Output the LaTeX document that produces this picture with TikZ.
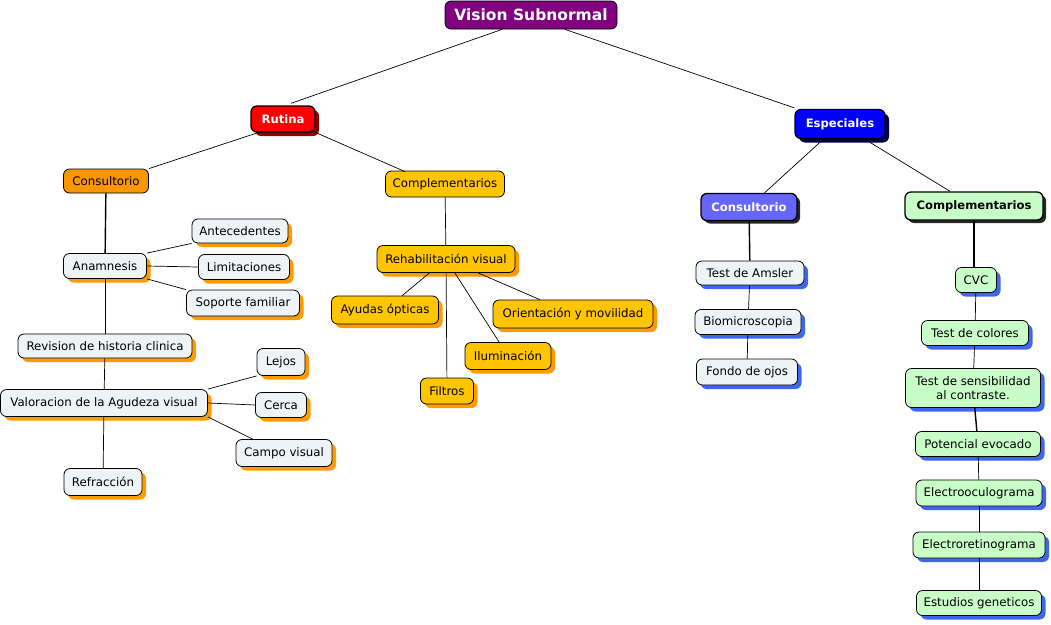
\documentclass[tikz,border=0pt]{standalone}
\usepackage{fontspec}
\setmainfont{DejaVu Sans}
\usetikzlibrary{shadows}
\definecolor{cpurple}{HTML}{800080}
\definecolor{cred}{HTML}{FF0000}
\definecolor{cdred}{HTML}{8A0000}
\definecolor{cblue}{HTML}{0000FF}
\definecolor{cdblue}{HTML}{00004A}
\definecolor{corange}{HTML}{FA9600}
\definecolor{cgold}{HTML}{FFC600}
\definecolor{cleaf}{HTML}{EEF3F6}
\definecolor{cmblue}{HTML}{6666FF}
\definecolor{cgreen}{HTML}{C8FDC8}
\definecolor{cshor}{HTML}{FF9A00}
\definecolor{cshbl}{HTML}{3F66F0}
\tikzset{
  box/.style={draw=black, line width=0.8pt, rounded corners=6pt, inner sep=0pt, align=center,
    font=\fontsize{11.8}{14}\selectfont},
  bfont/.style={font=\fontsize{11.6}{14}\selectfont\bfseries},
  topbox/.style={box, fill=cpurple, text=white, font=\fontsize{15.5}{18}\selectfont\bfseries},
  headred/.style={box, bfont, line width=1.3pt, fill=cred, text=white,
    drop shadow={shadow xshift=4pt, shadow yshift=-4pt, fill=cdred, opacity=1}},
  headblue/.style={box, bfont, line width=1.3pt, fill=cblue, text=white,
    drop shadow={shadow xshift=4pt, shadow yshift=-4pt, fill=cdblue, opacity=1}},
  headmblue/.style={box, bfont, line width=1.3pt, fill=cmblue, text=white,
    drop shadow={shadow xshift=3pt, shadow yshift=-3pt, fill=black!85, opacity=1}},
  headgreen/.style={box, bfont, line width=1.3pt, fill=cgreen, text=black,
    drop shadow={shadow xshift=3pt, shadow yshift=-3pt, fill=black!85, opacity=1}},
  orangebox/.style={box, fill=corange},
  goldbox/.style={box, fill=cgold},
  goldleaf/.style={box, fill=cgold, drop shadow={shadow xshift=4pt, shadow yshift=-4pt, fill=cshor, opacity=1}},
  leafo/.style={box, fill=cleaf, drop shadow={shadow xshift=4pt, shadow yshift=-4pt, fill=cshor, opacity=1}},
  leafb/.style={box, fill=cleaf, drop shadow={shadow xshift=4pt, shadow yshift=-4pt, fill=cshbl, opacity=1}},
  greenleaf/.style={box, fill=cgreen, drop shadow={shadow xshift=4pt, shadow yshift=-4pt, fill=cshbl, opacity=1}},
  link/.style={draw=black, line width=0.7pt},
  thick link/.style={draw=black, line width=1.4pt}
}
\begin{document}
\begin{tikzpicture}[x=1pt,y=-1pt]
\useasboundingbox (0,0) rectangle (1051,624);
% top
\node[topbox, minimum width=172pt, minimum height=28pt] (vs) at (531,15) {Vision Subnormal};
\node[headred, minimum width=64pt, minimum height=26pt] (rut) at (283,119) {Rutina};
\node[headblue, minimum width=90pt, minimum height=29pt] (esp) at (840,124) {Especiales};
% left branch
\node[orangebox, minimum width=85pt, minimum height=24pt] (cons) at (106,181) {Consultorio};
\node[goldbox, minimum width=119pt, minimum height=26pt] (comp) at (445,184) {Complementarios};
\node[leafo, minimum width=83pt, minimum height=25pt] (anam) at (105,266) {Anamnesis};
\node[leafo, minimum width=96pt, minimum height=24pt] (ante) at (240,231) {Antecedentes};
\node[leafo, minimum width=91pt, minimum height=25pt] (limi) at (244,267) {Limitaciones};
\node[leafo, minimum width=113pt, minimum height=26pt] (sopo) at (243,303) {Soporte familiar};
\node[leafo, minimum width=174pt, minimum height=24pt] (revi) at (105,346) {Revision de historia clinica};
\node[leafo, minimum width=207pt, minimum height=27pt] (valo) at (104,403) {Valoracion de la Agudeza visual};
\node[leafo, minimum width=48pt, minimum height=27pt] (lejo) at (281,362) {Lejos};
\node[leafo, minimum width=51pt, minimum height=25pt] (cerc) at (281,405) {Cerca};
\node[leafo, minimum width=96pt, minimum height=27pt] (camp) at (284,453) {Campo visual};
\node[leafo, minimum width=78pt, minimum height=27pt] (refr) at (103,482) {Refracción};
% rehabilitacion
\node[goldleaf, minimum width=138pt, minimum height=27pt] (reha) at (446,259) {Rehabilitación visual};
\node[goldleaf, minimum width=107pt, minimum height=28pt] (ayud) at (385,310) {Ayudas ópticas};
\node[goldleaf, minimum width=160pt, minimum height=28pt] (orie) at (573,314) {Orientación y movilidad};
\node[goldleaf, minimum width=86pt, minimum height=27pt] (ilum) at (508,356) {Iluminación};
\node[goldleaf, minimum width=53pt, minimum height=26pt] (filt) at (447,391) {Filtros};
% right branch
\node[headmblue, minimum width=96pt, minimum height=27pt] (consr) at (749,207) {Consultorio};
\node[headgreen, minimum width=138pt, minimum height=28pt] (compr) at (974,206) {Complementarios};
\node[leafb, minimum width=108pt, minimum height=24pt] (amsl) at (750,273) {Test de Amsler};
\node[leafb, minimum width=106pt, minimum height=25pt] (biom) at (748,322) {Biomicroscopia};
\node[leafb, minimum width=101pt, minimum height=26pt] (fond) at (747,372) {Fondo de ojos};
\node[greenleaf, minimum width=41pt, minimum height=25pt] (cvc) at (976,280) {CVC};
\node[greenleaf, minimum width=107pt, minimum height=25pt] (tcol) at (975,333) {Test de colores};
\node[greenleaf, minimum width=135pt, minimum height=39pt] (tsen) at (973,388) {Test de sensibilidad\\al contraste.};
\node[greenleaf, minimum width=125pt, minimum height=25pt] (pote) at (978,444) {Potencial evocado};
\node[greenleaf, minimum width=126pt, minimum height=26pt] (eocu) at (979,493) {Electrooculograma};
\node[greenleaf, minimum width=132pt, minimum height=26pt] (eret) at (979,545) {Electroretinograma};
\node[greenleaf, minimum width=125pt, minimum height=25pt] (estu) at (979,603) {Estudios geneticos};
% connectors
\draw[link] ([xshift=-29pt]vs.south) -- ([xshift=8pt,yshift=2pt]rut.north);
\draw[link] ([xshift=34pt]vs.south) -- ([yshift=1pt]esp.north west);
\draw[link] ([xshift=-25pt]rut.south) -- (cons.north east);
\draw[link] ([xshift=-2pt,yshift=1pt]rut.south east) -- ([xshift=-40pt,yshift=-1pt]comp.north);
\draw[thick link] (cons) -- (anam);
\draw[link] (anam.north east) -- (ante.south west);
\draw[link] (anam.east) -- (limi.west);
\draw[link] (anam.south east) -- (sopo.north west);
\draw[link] (anam) -- (revi);
\draw[link] (revi) -- (valo);
\draw[link] (valo.north east) -- (lejo.south west);
\draw[link] (valo.east) -- (cerc.west);
\draw[link] (valo.south east) -- ([xshift=17pt]camp.north west);
\draw[link] (valo) -- (refr);
\draw[link] (comp) -- (reha);
\draw[link] (reha) -- (ayud);
\draw[link] (reha) -- (filt);
\draw[link] (reha) -- (ilum);
\draw[link] (reha) -- (orie);
\draw[link] (esp) -- (consr);
\draw[link] (esp) -- (compr);
\draw[thick link] (consr) -- (amsl);
\draw[link] (amsl) -- (biom);
\draw[link] (biom) -- (fond);
\draw[thick link] (compr.south) -- (cvc.north -| compr.south);
\draw[link] (cvc) -- (tcol);
\draw[link] (tcol) -- (tsen);
\draw[thick link] (tsen) -- (pote);
\draw[link] (pote) -- (eocu);
\draw[link] (eocu) -- (eret);
\draw[link] (eret) -- (estu);
\end{tikzpicture}
\end{document}
